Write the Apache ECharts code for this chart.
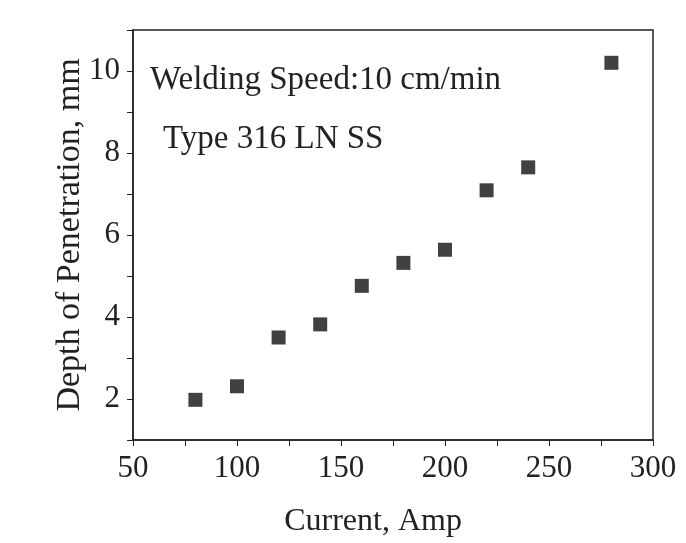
<!DOCTYPE html>
<html><head><meta charset="utf-8">
<script src="https://cdn.jsdelivr.net/npm/echarts@6/dist/echarts.min.js"></script>
<style>html,body{margin:0;padding:0;background:#fff}#c{width:686px;height:543px}</style>
</head><body><div id="c"></div>
<script>
const currents = [80, 100, 120, 140, 160, 180, 200, 220, 240, 280];
const depths = [1.98, 2.31, 3.5, 3.82, 4.76, 5.32, 5.64, 7.09, 7.65, 10.2];
const xTicks = [50, 100, 150, 200, 250, 300];
const yTicks = [2, 4, 6, 8, 10];
const annotations = ["Welding Speed:10 cm/min", "Type 316 LN SS"];

const font = "'Liberation Serif', 'DejaVu Serif', serif";
const fs = 31;
const chart = echarts.init(document.getElementById('c'));
chart.setOption({
  backgroundColor: '#fff',
  animation: false,
  grid: { left: 133, right: 33, top: 30, bottom: 102, show: true, borderColor: '#222', borderWidth: 1.5 },
  title: [
    { text: annotations[0], left: 145, top: 59, textStyle: { fontFamily: font, fontWeight: 'normal', fontSize: 33, color: '#222' } },
    { text: annotations[1], left: 158, top: 118, textStyle: { fontFamily: font, fontWeight: 'normal', fontSize: 33, color: '#222' } }
  ],
  xAxis: {
    type: 'value', min: 50, max: 300, interval: 25,
    name: 'Current, Amp', nameLocation: 'middle', nameGap: 66, nameMoveOverlap: false,
    nameTextStyle: { fontFamily: font, fontSize: 32, color: '#222', padding: [0, 40, 0, 0] },
    axisLine: { lineStyle: { color: '#222', width: 1.5 } },
    axisTick: { inside: false, length: 6, lineStyle: { color: '#222' } },
    splitLine: { show: false },
    axisLabel: { margin: 13, fontFamily: font, fontSize: fs, color: '#222',
      formatter: v => xTicks.includes(v) ? String(v) : '' }
  },
  yAxis: {
    type: 'value', min: 1, max: 11, interval: 1,
    name: 'Depth of Penetration, mm', nameLocation: 'middle', nameGap: 46, nameMoveOverlap: false,
    nameTextStyle: { fontFamily: font, fontSize: 34, color: '#222' },
    axisLine: { lineStyle: { color: '#222', width: 1.5 } },
    axisTick: { inside: false, length: 6, lineStyle: { color: '#222' } },
    splitLine: { show: false },
    axisLabel: { margin: 13, fontFamily: font, fontSize: fs, color: '#222',
      formatter: v => yTicks.includes(v) ? String(v) : '' }
  },
  series: [{
    type: 'scatter', symbol: 'rect', symbolSize: 14,
    itemStyle: { color: '#111' },
    data: currents.map((c, i) => [c, depths[i]])
  }]
});
</script></body></html>
